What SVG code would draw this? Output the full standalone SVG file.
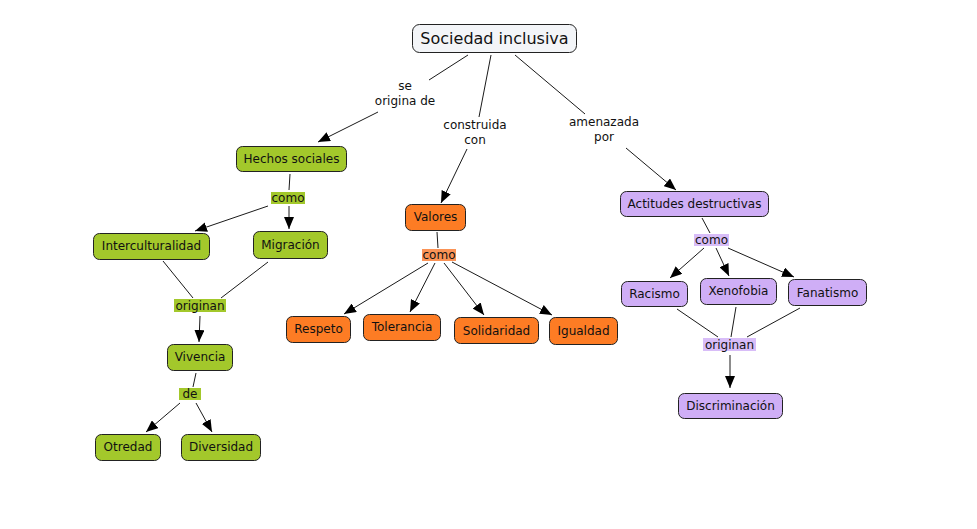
<svg xmlns="http://www.w3.org/2000/svg" width="977" height="529" viewBox="0 0 977 529">
<defs>
<marker id="arr" markerUnits="userSpaceOnUse" markerWidth="12" markerHeight="10" refX="12" refY="5" orient="auto" viewBox="0 0 12 10">
<path d="M0,0 L12,5 L0,10 z" fill="#000"/>
</marker>
<style>
text{font-family:"DejaVu Sans",Verdana,sans-serif;font-size:12px;fill:#111;text-anchor:middle;dominant-baseline:central}
.n rect{stroke:#222;stroke-width:1}
.g rect{fill:#a3c82b}
.o rect{fill:#fd7c24}
.p rect{fill:#cfaef6}
.lg{fill:#a3c82b}
.lo{fill:#fb9356}
.lp{fill:#d8bdf8}
#connectors line{stroke:#1a1a1a;stroke-width:1;fill:none}
#connectors line.a{marker-end:url(#arr)}
</style>
</defs>
<rect width="977" height="529" fill="#fff"/>
<g id="connectors">
<line x1="468" y1="55" x2="429" y2="80"/>
<line class="a" x1="378" y1="112" x2="318" y2="142"/>
<line x1="491" y1="55" x2="479" y2="117"/>
<line class="a" x1="467" y1="149" x2="441" y2="203"/>
<line x1="515" y1="55" x2="585" y2="114"/>
<line class="a" x1="626" y1="148" x2="676" y2="190"/>
<line x1="290" y1="174" x2="289" y2="190"/>
<line class="a" x1="268" y1="206" x2="195" y2="231"/>
<line class="a" x1="289" y1="206" x2="289" y2="229"/>
<line x1="163" y1="261" x2="193" y2="298"/>
<line x1="268" y1="262" x2="221" y2="298"/>
<line class="a" x1="200" y1="316" x2="199" y2="342"/>
<line x1="196" y1="373" x2="193" y2="387"/>
<line class="a" x1="180" y1="403" x2="146" y2="432"/>
<line class="a" x1="196" y1="403" x2="212" y2="432"/>
<line x1="437" y1="232" x2="438" y2="248"/>
<line class="a" x1="428" y1="263" x2="344" y2="314"/>
<line class="a" x1="435" y1="263" x2="410" y2="312"/>
<line class="a" x1="444" y1="263" x2="484" y2="315"/>
<line class="a" x1="452" y1="262" x2="552" y2="315"/>
<line x1="702" y1="218" x2="710" y2="233"/>
<line class="a" x1="704" y1="248" x2="670" y2="278"/>
<line class="a" x1="716" y1="248" x2="729" y2="276"/>
<line class="a" x1="728" y1="248" x2="794" y2="277"/>
<line x1="677" y1="309" x2="718" y2="337"/>
<line x1="736" y1="307" x2="731" y2="337"/>
<line x1="800" y1="308" x2="747" y2="337"/>
<line class="a" x1="730" y1="355" x2="730" y2="388"/>
</g>
<g id="link-se-origina">
<text x="405" y="86">se</text>
<text x="405" y="101">origina de</text>
</g>
<g id="link-construida">
<text x="475" y="125">construida</text>
<text x="475" y="140">con</text>
</g>
<g id="link-amenazada">
<text x="604" y="122">amenazada</text>
<text x="604" y="137">por</text>
</g>
<g id="link-como-1"><rect class="lg" x="271" y="192" width="34" height="12"/><text x="288" y="198">como</text></g>
<g id="link-originan-1"><rect class="lg" x="174" y="299" width="52" height="13"/><text x="200" y="305.5">originan</text></g>
<g id="link-de"><rect class="lg" x="179" y="388" width="22" height="12"/><text x="190" y="394">de</text></g>
<g id="link-como-2"><rect class="lo" x="422" y="249" width="34" height="12"/><text x="439" y="255">como</text></g>
<g id="link-como-3"><rect class="lp" x="694" y="234" width="35" height="12"/><text x="711.5" y="240">como</text></g>
<g id="link-originan-2"><rect class="lp" x="703" y="338" width="53" height="13"/><text x="729.5" y="344.5">originan</text></g>
<g id="n-sociedad" class="n"><rect x="412.5" y="24.5" width="164" height="28" rx="7" fill="#f3f5f8"/><text x="494.5" y="38.5" style="font-size:16px">Sociedad inclusiva</text></g>
<g id="n-hechos" class="n g"><rect x="236.5" y="146.5" width="110" height="25" rx="6"/><text x="291.5" y="158.5">Hechos sociales</text></g>
<g id="n-intercult" class="n g"><rect x="93.5" y="233.5" width="116" height="26" rx="6"/><text x="151.5" y="246">Interculturalidad</text></g>
<g id="n-migracion" class="n g"><rect x="253.5" y="231.5" width="74" height="27" rx="6"/><text x="290.5" y="244.5">Migración</text></g>
<g id="n-vivencia" class="n g"><rect x="167.5" y="344.5" width="65" height="26" rx="6"/><text x="200" y="357">Vivencia</text></g>
<g id="n-otredad" class="n g"><rect x="95.5" y="434.5" width="65" height="26" rx="6"/><text x="128" y="447">Otredad</text></g>
<g id="n-diversidad" class="n g"><rect x="181.5" y="434.5" width="79" height="26" rx="6"/><text x="221" y="447">Diversidad</text></g>
<g id="n-valores" class="n o"><rect x="405.5" y="204.5" width="60" height="26" rx="6"/><text x="435.5" y="217">Valores</text></g>
<g id="n-respeto" class="n o"><rect x="286.5" y="316.5" width="64" height="26" rx="6"/><text x="318.5" y="329">Respeto</text></g>
<g id="n-tolerancia" class="n o"><rect x="363.5" y="314.5" width="77" height="26" rx="6"/><text x="402" y="327">Tolerancia</text></g>
<g id="n-solidaridad" class="n o"><rect x="454.5" y="317.5" width="84" height="26" rx="6"/><text x="496.5" y="330.5">Solidaridad</text></g>
<g id="n-igualdad" class="n o"><rect x="549.5" y="317.5" width="68" height="27" rx="6"/><text x="583.5" y="331">Igualdad</text></g>
<g id="n-actitudes" class="n p"><rect x="620.5" y="191.5" width="148" height="25" rx="6"/><text x="694.5" y="203.5">Actitudes destructivas</text></g>
<g id="n-racismo" class="n p"><rect x="621.5" y="281.5" width="66" height="25" rx="6"/><text x="654.5" y="294">Racismo</text></g>
<g id="n-xenofobia" class="n p"><rect x="700.5" y="278.5" width="76" height="26" rx="6"/><text x="738.5" y="291">Xenofobia</text></g>
<g id="n-fanatismo" class="n p"><rect x="788.5" y="279.5" width="78" height="26" rx="6"/><text x="827.5" y="292.5">Fanatismo</text></g>
<g id="n-discriminacion" class="n p"><rect x="678.5" y="393.5" width="104" height="25" rx="6"/><text x="730.5" y="406">Discriminación</text></g>
</svg>
